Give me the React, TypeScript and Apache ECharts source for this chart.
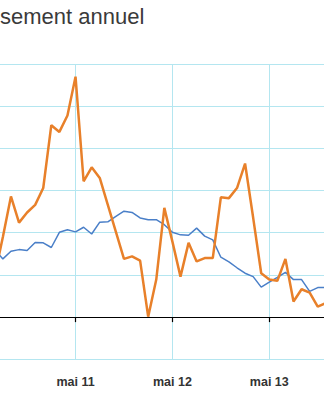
import React, { useEffect, useRef } from "react";
import * as echarts from "echarts";

const months = [
  "juil 10", "août 10", "sept 10", "oct 10", "nov 10", "déc 10",
  "janv 11", "févr 11", "mars 11", "avr 11", "mai 11", "juin 11",
  "juil 11", "août 11", "sept 11", "oct 11", "nov 11", "déc 11",
  "janv 12", "févr 12", "mars 12", "avr 12", "mai 12", "juin 12",
  "juil 12", "août 12", "sept 12", "oct 12", "nov 12", "déc 12",
  "janv 13", "févr 13", "mars 13", "avr 13", "mai 13", "juin 13",
  "juil 13", "août 13", "sept 13", "oct 13", "nov 13", "déc 13",
];

const blueSeries = [
  1.6, 1.38, 1.56, 1.6, 1.58, 1.77,
  1.76, 1.65, 2.01, 2.07, 2.02, 2.13,
  1.97, 2.25, 2.26, 2.39, 2.51, 2.48,
  2.35, 2.31, 2.31, 2.19, 2.01, 1.95,
  1.94, 2.11, 1.92, 1.83, 1.42, 1.31,
  1.17, 1.04, 0.96, 0.71, 0.83, 0.94,
  1.06, 0.89, 0.89, 0.61, 0.7, 0.7,
];

const orangeSeries = [
  1.0, 1.9, 2.86, 2.24, 2.48, 2.66,
  3.06, 4.55, 4.39, 4.78, 5.7, 3.22,
  3.55, 3.3, 2.66, 2.02, 1.38, 1.44,
  1.34, 0.01, 0.89, 2.59, 1.79, 0.96,
  1.76, 1.32, 1.4, 1.4, 2.84, 2.82,
  3.06, 3.64, 2.36, 1.04, 0.89, 0.86,
  1.38, 0.37, 0.66, 0.58, 0.25, 0.33,
];

const titleText = "sement annuel";

const isMay = (_i: number, v: string) => String(v).startsWith("mai");

export default function App() {
  const ref = useRef<HTMLDivElement>(null);
  useEffect(() => {
    if (!ref.current) return;
    const chart = echarts.init(ref.current, undefined, { renderer: "svg" });
    chart.setOption({
      animation: false,
      graphic: [
        {
          type: "text",
          left: 20,
          top: 5,
          style: {
            text: titleText,
            fontSize: 22,
            fontFamily: "Liberation Sans, Arial, sans-serif",
            fill: "#3a3a3a",
          },
        },
      ],
      grid: {
        left: 14.8,
        right: 8.2,
        top: 64,
        bottom: 40.7,
        containLabel: false,
        outerBoundsMode: "none",
      },
      xAxis: {
        type: "category",
        data: months,
        boundaryGap: false,
        axisLine: { onZero: true, lineStyle: { color: "#000", width: 1.2 } },
        axisTick: { interval: isMay, length: 5, lineStyle: { color: "#000", width: 1.2 } },
        axisLabel: {
          interval: isMay,
          margin: 16,
          fontSize: 12.5,
          fontWeight: "bold",
          color: "#333",
          fontFamily: "Liberation Sans, Arial, sans-serif",
        },
        splitLine: { show: true, interval: isMay, lineStyle: { color: "#b4e6f0", width: 1 } },
      },
      yAxis: {
        type: "value",
        min: -1,
        max: 6,
        interval: 1,
        axisLine: { show: false },
        axisTick: { show: false },
        axisLabel: { show: false },
        splitLine: { show: true, lineStyle: { color: "#b4e6f0", width: 1.2 } },
      },
      series: [
        {
          type: "line",
          data: blueSeries,
          symbol: "none",
          lineStyle: { color: "#4a7fc8", width: 1.5 },
          z: 2,
        },
        {
          type: "line",
          data: orangeSeries,
          symbol: "none",
          lineStyle: { color: "#e8802a", width: 2.5 },
          z: 3,
        },
      ],
    });
    return () => chart.dispose();
  }, []);
  return (
    <div style={{ position: "fixed", left: 0, top: 0, width: 324, height: 400, overflow: "hidden", background: "#fff" }}>
      <div ref={ref} style={{ position: "absolute", left: -20, top: 0, width: 354, height: 400 }} />
    </div>
  );
}
